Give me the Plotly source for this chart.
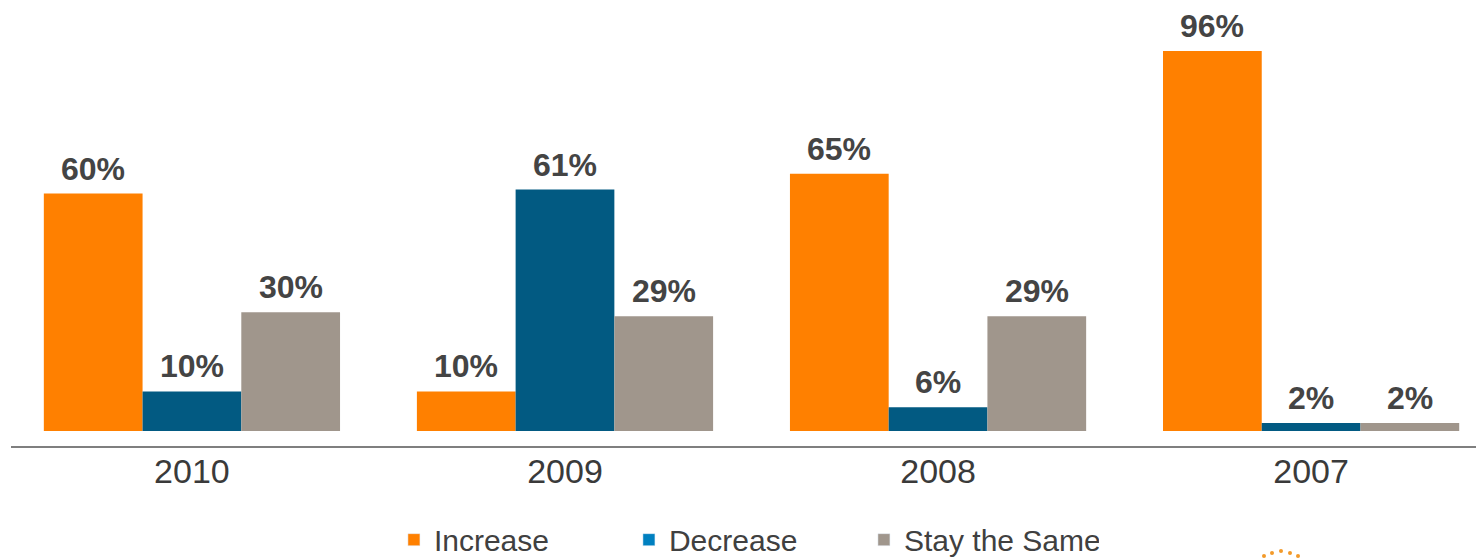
import plotly.graph_objects as go

years = ["2010", "2009", "2008", "2007"]
increase = [60, 10, 65, 96]
decrease = [10, 61, 6, 2]
stay_same = [30, 29, 29, 2]

series_names = ["Increase", "Decrease", "Stay the Same"]
bar_colors = ["#FF8000", "#025A82", "#A0968C"]
legend_colors = ["#FF8000", "#0080C0", "#A0968C"]
values = [increase, decrease, stay_same]

X_RANGE = [-0.485, 3.442]
PLOT_W = 1465
BARGAP = 0.206

fig = go.Figure()
for name, vals, col in zip(series_names, values, bar_colors):
    fig.add_trace(go.Bar(
        x=years, y=vals, name=name, marker=dict(color=col, line=dict(width=0)),
        showlegend=False,
    ))

# value labels above the bars, offset by each series' slot in the group
cat_px = PLOT_W / (X_RANGE[1] - X_RANGE[0])
bar_px = cat_px * (1 - BARGAP) / len(series_names)
for i, vals in enumerate(values):
    for j, v in enumerate(vals):
        fig.add_annotation(
            x=j, y=v, xref="x", yref="y", text=f"<b>{v}%</b>", showarrow=False,
            xshift=(i - 1) * bar_px, yanchor="bottom", yshift=5,
            font=dict(family="Liberation Sans", size=32, color="#444444"),
        )

# legend-only entries (legend swatch colours differ slightly from bar colours)
for name, col in zip(series_names, legend_colors):
    fig.add_trace(go.Bar(
        x=[None], y=[None], name=name, marker=dict(color=col),
        xaxis="x2", yaxis="y2", showlegend=True,
    ))

fig.update_layout(
    width=1476, height=558,
    margin=dict(l=11, r=0, t=0, b=112, autoexpand=False),
    paper_bgcolor="white", plot_bgcolor="white",
    barmode="group", bargap=BARGAP, bargroupgap=0,
    font=dict(family="Liberation Sans", color="#404040"),
    xaxis=dict(
        type="category", range=X_RANGE, showgrid=False, zeroline=False,
        showline=True, linecolor="#7F7F7F", linewidth=2,
        tickfont=dict(family="Liberation Sans", size=34, color="#3A3A3A"),
        ticks="", ticklabelstandoff=-6, fixedrange=True,
    ),
    yaxis=dict(range=[-3.79, 108.9], visible=False, showgrid=False, zeroline=False),
    xaxis2=dict(visible=False, overlaying="x"),
    yaxis2=dict(visible=False, overlaying="y"),
    legend=dict(
        orientation="h", x=0.502, xanchor="center", y=-0.21, yanchor="middle",
        font=dict(family="Liberation Sans", size=30, color="#404040"),
        itemwidth=30, entrywidth=190, entrywidthmode="pixels",
        bgcolor="rgba(0,0,0,0)",
    ),
)

# small logo dots at lower right
for cx, cy in [(1264, 556), (1272, 553), (1281, 551), (1290, 553), (1298, 556)]:
    fig.add_shape(type="circle", xref="paper", yref="paper",
                  x0=(cx - 2 - 11) / 1465, x1=(cx + 2 - 11) / 1465,
                  y0=-(cy + 2 - 446) / 446, y1=-(cy - 2 - 446) / 446,
                  fillcolor="#F39A2A", line=dict(width=0))

fig.write_html("out.html")
